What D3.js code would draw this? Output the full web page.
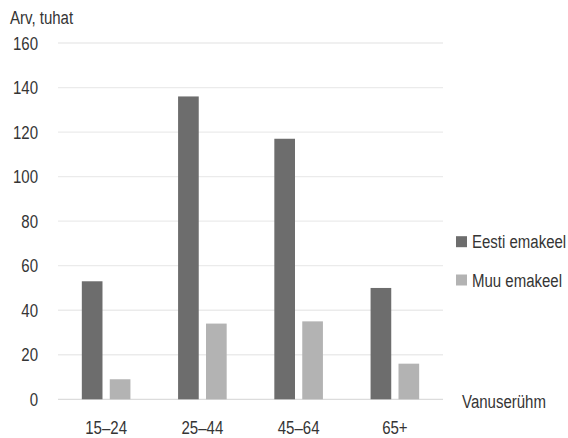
<!DOCTYPE html>
<html><head><meta charset="utf-8">
<script src="https://cdn.jsdelivr.net/npm/d3@7"></script>
<style>
body{margin:0;background:#fff;}
text{font-family:"Liberation Sans",Arial,sans-serif;fill:#353535;font-size:19px;}
</style></head>
<body><svg id="c" width="568" height="438"></svg>
<script>
const categories = ["15–24","25–44","45–64","65+"];
const seriesNames = ["Eesti emakeel","Muu emakeel"];
const eesti = [53,136,117,50];
const muu = [9,34,35,16];
const yTicks = [0,20,40,60,80,100,120,140,160];
const colors = ["#6d6d6d","#b3b3b3"];

const svg = d3.select("#c");
const x0 = 58, x1 = 443, yTop = 43, yBot = 399.3;
const SX = 0.79;
const x = d3.scaleBand().domain(categories).range([x0,x1]).paddingInner(0).paddingOuter(0);
const xs = d3.scaleBand().domain(seriesNames).range([0, 48.6]).paddingInner(0.26);
const y = d3.scaleLinear().domain([0,160]).range([yBot,yTop]);

function label(g, px, py, txt, anchor, dy){
  return g.append("text")
    .attr("transform",`translate(${px},${py}) scale(${SX},1)`)
    .attr("text-anchor",anchor||"start")
    .attr("dy",dy||0)
    .text(txt);
}

// gridlines
svg.append("g").selectAll("line").data(yTicks).join("line")
  .attr("x1",x0).attr("x2",x1)
  .attr("y1",d=>y(d)).attr("y2",d=>y(d))
  .attr("stroke",d=>d===0?"#dcdcdc":"#ebebeb").attr("stroke-width",1.3);

// y tick labels
const yl = svg.append("g");
yTicks.forEach(d=>label(yl, 38, y(d), d, "end", "0.35em"));

label(svg, 10, 24, "Arv, tuhat");

const data = [eesti, muu];
const offset = (x.bandwidth()-48.6)/2;
data.forEach((vals,si)=>{
  svg.append("g").selectAll("rect").data(vals).join("rect")
    .attr("x",(d,i)=>x(categories[i])+offset+xs(seriesNames[si]))
    .attr("width",xs.bandwidth())
    .attr("y",d=>y(d)).attr("height",d=>y(0)-y(d))
    .attr("fill",colors[si]);
});

// x labels
const xl = svg.append("g");
categories.forEach(c=>label(xl, x(c)+x.bandwidth()/2, 434, c, "middle"));

label(svg, 462, 408, "Vanuserühm");

// legend
const leg = svg.append("g");
seriesNames.forEach((n,i)=>{
  const cy = 241.7 + i*38.3;
  leg.append("rect").attr("x",456).attr("y",cy-5.5).attr("width",11).attr("height",11).attr("fill",colors[i]);
  label(leg, 472, cy, n, "start", "0.35em");
});
</script></body></html>
